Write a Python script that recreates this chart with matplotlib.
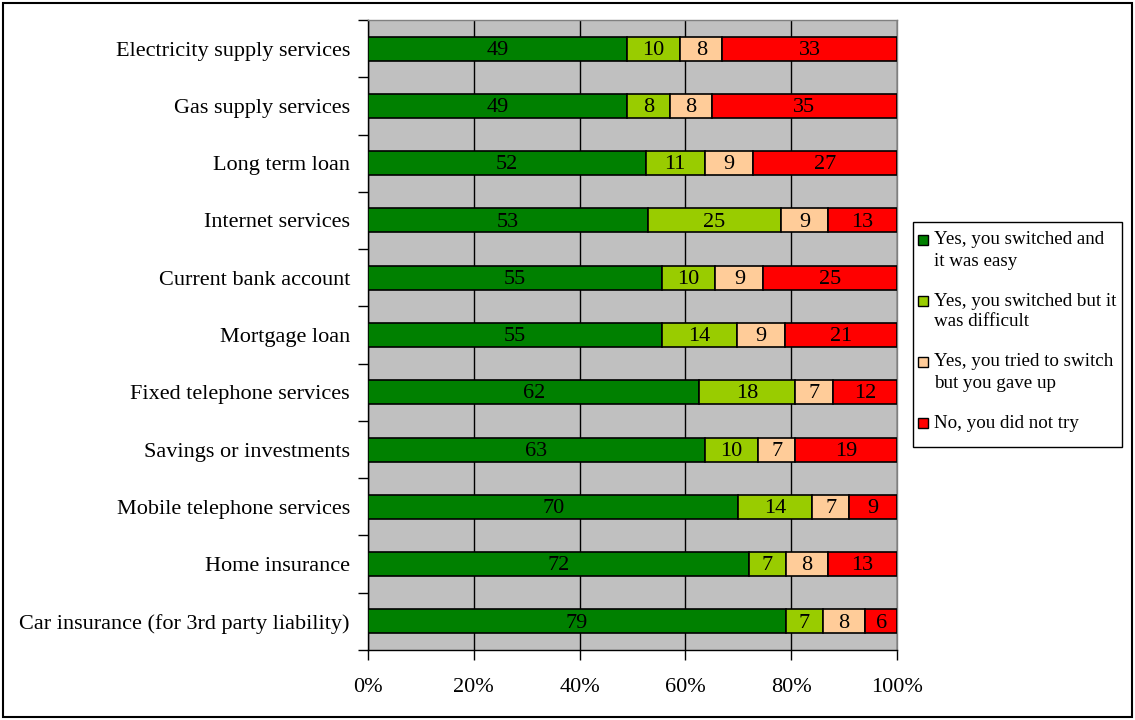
import matplotlib
matplotlib.use("Agg")
import matplotlib.pyplot as plt
import numpy as np
from matplotlib.patches import Rectangle

categories = [
    "Electricity supply services",
    "Gas supply services",
    "Long term loan",
    "Internet services",
    "Current bank account",
    "Mortgage loan",
    "Fixed telephone services",
    "Savings or investments",
    "Mobile telephone services",
    "Home insurance",
    "Car insurance (for 3rd party liability)",
]
easy = [49, 49, 52, 53, 55, 55, 62, 63, 70, 72, 79]
difficult = [10, 8, 11, 25, 10, 14, 18, 10, 14, 7, 7]
gave_up = [8, 8, 9, 9, 9, 9, 7, 7, 7, 8, 8]
not_try = [33, 35, 27, 13, 25, 21, 12, 19, 9, 13, 6]

series_names = [
    "Yes, you switched and\nit was easy",
    "Yes, you switched but it\nwas difficult",
    "Yes, you tried to switch\nbut you gave up",
    "No, you did not try",
]
colors = ["#008000", "#99CC00", "#FFCC99", "#FF0000"]
xticklabels = ["0%", "20%", "40%", "60%", "80%", "100%"]

plt.rcParams["font.family"] = ["Liberation Serif", "DejaVu Serif"]

W, H = 1135, 720
fig = plt.figure(figsize=(W / 100, H / 100), dpi=100)
ax = fig.add_axes([368 / W, 1 - 650 / H, (897 - 368) / W, (650 - 20) / H])

data = np.array([easy, difficult, gave_up, not_try], dtype=float)
totals = data.sum(axis=0)
pct = data / totals * 100

n = len(categories)
y = np.arange(n)
left = np.zeros(n)
for i in range(4):
    ax.barh(y, pct[i], left=left, height=0.42, color=colors[i],
            edgecolor="black", linewidth=1.2, label=series_names[i], zorder=3)
    for j in range(n):
        ax.text(left[j] + pct[i][j] / 2, y[j] + 0.03, f"{int(data[i][j])}",
                ha="center", va="center", fontsize=16, color="black", zorder=4)
    left += pct[i]

ax.set_facecolor("#C0C0C0")
ax.set_xlim(0, 100)
ax.set_ylim(n - 0.5, -0.5)
ax.set_xticks([0, 20, 40, 60, 80, 100])
ax.set_xticklabels(xticklabels, fontsize=16)
ax.xaxis.grid(True, color="black", linewidth=1.0, zorder=1)
ax.set_axisbelow(True)
ax.set_yticks(y)
ax.set_yticklabels(categories, fontsize=16)
ax.tick_params(axis="y", length=0, pad=13)
ax.set_yticks(np.arange(n + 1) - 0.5, minor=True)
ax.tick_params(axis="y", which="minor", length=7, width=1, direction="out")
ax.tick_params(axis="x", length=7, width=1, direction="out", pad=13)
for s in ax.spines.values():
    s.set_color("#808080")
    s.set_linewidth(1.0)
ax.spines["left"].set_color("black")
ax.spines["bottom"].set_color("black")

# Legend (drawn manually so each swatch sits beside the first line of its entry)
def fx(px):
    return px / W

def fy(py):
    return 1 - py / H

fig.patches.append(Rectangle((fx(913), fy(447)), fx(1122) - fx(913), fy(222) - fy(447),
                             transform=fig.transFigure, facecolor="white",
                             edgecolor="black", linewidth=1.0, zorder=5))
entry_y0, entry_step, line_gap = 240, 61, 21
for k, (name, col) in enumerate(zip(series_names, colors)):
    yc = entry_y0 + k * entry_step
    fig.patches.append(Rectangle((fx(918), fy(yc + 5)), fx(928) - fx(918), fy(yc - 5) - fy(yc + 5),
                                 transform=fig.transFigure, facecolor=col,
                                 edgecolor="black", linewidth=1.0, zorder=6))
    for m, line in enumerate(name.split("\n")):
        fig.text(fx(934), fy(yc + m * line_gap), line, ha="left", va="center",
                 fontsize=13.7, color="black", zorder=7)

fig.patches.append(Rectangle((3 / W, 3 / H), 1 - 6 / W, 1 - 6 / H,
                             transform=fig.transFigure, fill=False,
                             edgecolor="black", linewidth=1.5))

fig.savefig("out.png", dpi=100, facecolor="white")
